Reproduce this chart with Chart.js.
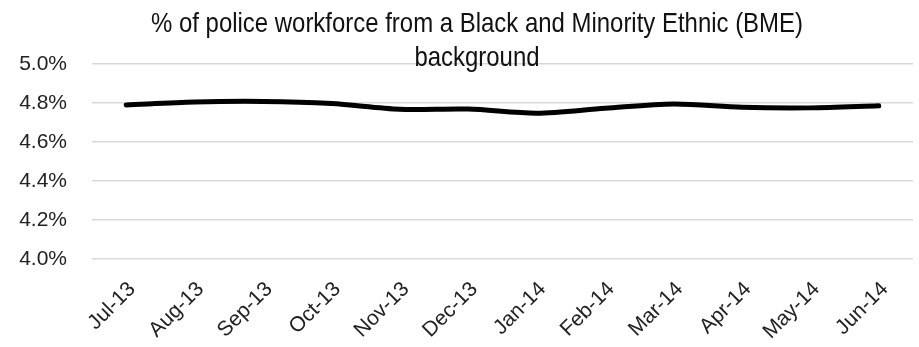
<html>
  <head>
    <title>BME share of police workforce</title>
    <script src="https://cdn.jsdelivr.net/npm/chart.js"></script>
    <style>
      body {
        margin: 0;
        background: #fff;
      }
      #bmeChart {
        display: block;
      }
    </style>
  </head>
  <body>
    <canvas id="bmeChart" width="919" height="347"></canvas>

    <script>
      // Monthly share of officers from a BME background (%)
      const months = ['Jul-13', 'Aug-13', 'Sep-13', 'Oct-13', 'Nov-13', 'Dec-13',
                      'Jan-14', 'Feb-14', 'Mar-14', 'Apr-14', 'May-14', 'Jun-14'];
      const bmeShare = [4.79, 4.805, 4.808, 4.797, 4.768, 4.769,
                        4.748, 4.773, 4.795, 4.778, 4.775, 4.786];
      const titleLines = ['% of police workforce from a Black and Minority Ethnic (BME)', 'background'];

      // Title is drawn by hand so it can sit over the top of the plot,
      // squeezed sideways to get a narrow-face look
      const titlePlugin = {
        id: 'twoLineTitle',
        afterDraw(chart) {
          const c = chart.ctx;
          c.save();
          c.translate(477, 0);
          c.scale(0.855, 1);
          c.font = '28px "Liberation Sans", Arial, sans-serif';
          c.fillStyle = '#111';
          c.textAlign = 'center';
          c.textBaseline = 'alphabetic';
          c.fillText(titleLines[0], 0, 32);
          c.fillText(titleLines[1], 0, 66);
          c.restore();
        }
      };

      const ctx = document.getElementById('bmeChart').getContext('2d');
      const bmeChart = new Chart(ctx, {
        type: 'line',
        data: {
          labels: months,
          datasets: [{
            label: 'BME %',
            data: bmeShare,
            borderColor: '#000',
            borderWidth: 5,
            borderCapStyle: 'round',
            tension: 0.3,
            pointRadius: 0,
            fill: false
          }]
        },
        options: {
          responsive: false,
          animation: false,
          layout: { padding: { top: 64, right: 6, left: 0, bottom: 0 } },
          plugins: {
            legend: { display: false },
            tooltip: { enabled: false }
          },
          scales: {
            x: {
              offset: true,
              grid: { display: false },
              border: { display: false },
              ticks: {
                color: '#222',
                font: { family: '"Liberation Sans", Arial, sans-serif', size: 21 },
                minRotation: 45,
                maxRotation: 45,
                padding: 10,
                labelOffset: 6
              },
              afterFit(scale) { scale.height = 88; }
            },
            y: {
              min: 4.0,
              max: 5.0,
              grid: { color: '#d9d9d9', lineWidth: 1.5, drawTicks: false },
              border: { display: false },
              ticks: {
                stepSize: 0.2,
                color: '#222',
                padding: 25,
                font: { family: '"Liberation Sans", Arial, sans-serif', size: 21 },
                callback: (v) => v.toFixed(1) + '%'
              },
              afterFit(scale) { scale.width = 92; }
            }
          }
        },
        plugins: [titlePlugin]
      });
    </script>
  </body>
</html>
